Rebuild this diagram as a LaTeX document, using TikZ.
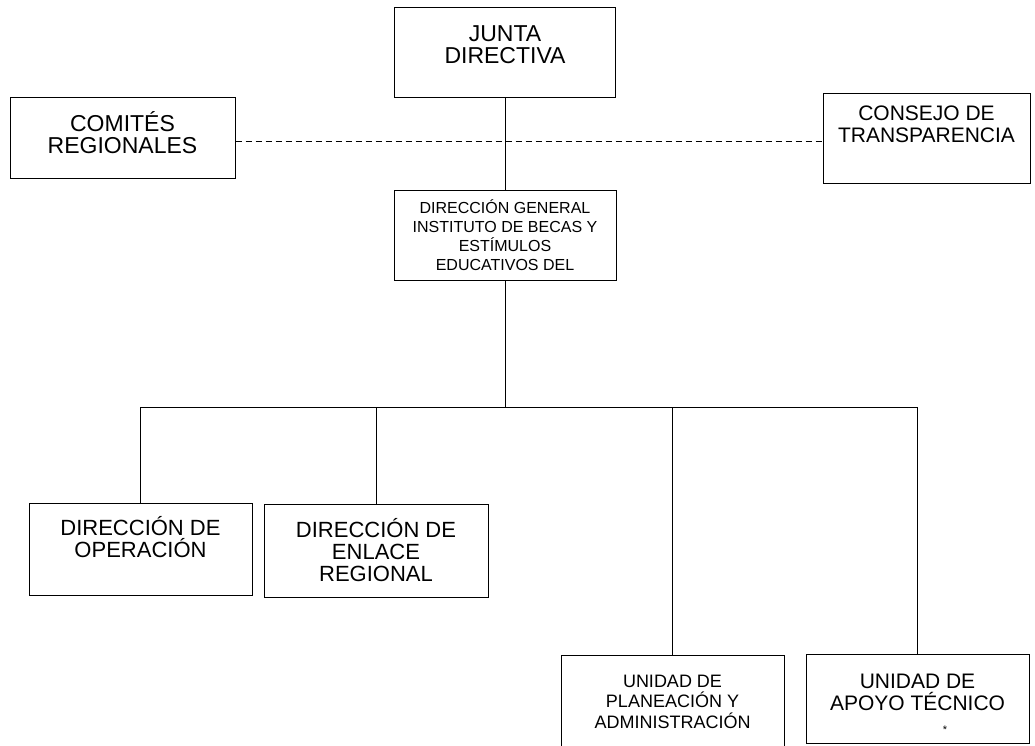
\documentclass[tikz,border=0pt]{standalone}
\usepackage{fontspec}
\setmainfont{Liberation Sans}

\tikzset{
	caja/.style={draw,line width=1pt,align=center,inner sep=2pt,font=\fontsize{21}{22}\selectfont},
	grande/.style={font=\fontsize{23}{22}\selectfont},
	chica/.style={font=\fontsize{16}{19}\selectfont},
	media/.style={font=\fontsize{18}{20.5}\selectfont},
}

\begin{document}
\begin{tikzpicture}[x=1pt,y=-1pt,line width=1pt]
	\useasboundingbox (0,0) rectangle (1035,745);
	% primer nivel
	\node[caja,grande,minimum width=221pt,minimum height=90pt,text depth=15pt] (junta) at (505,52) {JUNTA\\DIRECTIVA};
	\node[caja,grande,minimum width=225pt,minimum height=81pt,text depth=10pt] (comites) at (122.5,137.5) {COMITÉS\\REGIONALES};
	\node[caja,minimum width=207pt,minimum height=90pt,text depth=28pt] (consejo) at (926.5,138) {CONSEJO DE\\TRANSPARENCIA};
	\node[caja,chica,minimum width=222pt,minimum height=90pt] (general) at (505,235)
		{DIRECCIÓN GENERAL\\INSTITUTO DE BECAS Y\\ESTÍMULOS\\EDUCATIVOS DEL};
	% direcciones y unidades
	\node[caja,font=\fontsize{22}{22}\selectfont,minimum width=223pt,minimum height=92pt,text depth=24pt] (operacion) at (140.5,549) {DIRECCIÓN DE\\OPERACIÓN};
	\node[caja,font=\fontsize{22}{22}\selectfont,minimum width=224pt,minimum height=93pt] (enlace) at (376,550.5) {DIRECCIÓN DE\\ENLACE\\REGIONAL};
	\node[caja,media,minimum width=223pt,minimum height=93pt] (planeacion) at (672.5,701.5)
		{UNIDAD DE\\PLANEACIÓN Y\\ADMINISTRACIÓN};
	\node[caja,minimum width=223pt,minimum height=89pt,text depth=12pt] (apoyo) at (917.5,698.5) {UNIDAD DE\\APOYO TÉCNICO};
	\node[font=\fontsize{11}{11}\selectfont] (marca) at (945,730) {*};
	% conexiones
	\coordinate (cruce) at (505,141);
	\coordinate (bus) at (505,407);
	\draw (junta.south) -- (general.north);
	\draw[dash pattern=on 6pt off 4pt] (comites.east |- cruce) -- (consejo.west |- cruce);		% línea punteada
	\draw (general.south) -- (bus);
	\draw (operacion.north |- bus) -- (apoyo.north |- bus);
	\foreach \n in {operacion,enlace,planeacion,apoyo}
		\draw (\n.north |- bus) -- (\n.north);
\end{tikzpicture}
\end{document}
